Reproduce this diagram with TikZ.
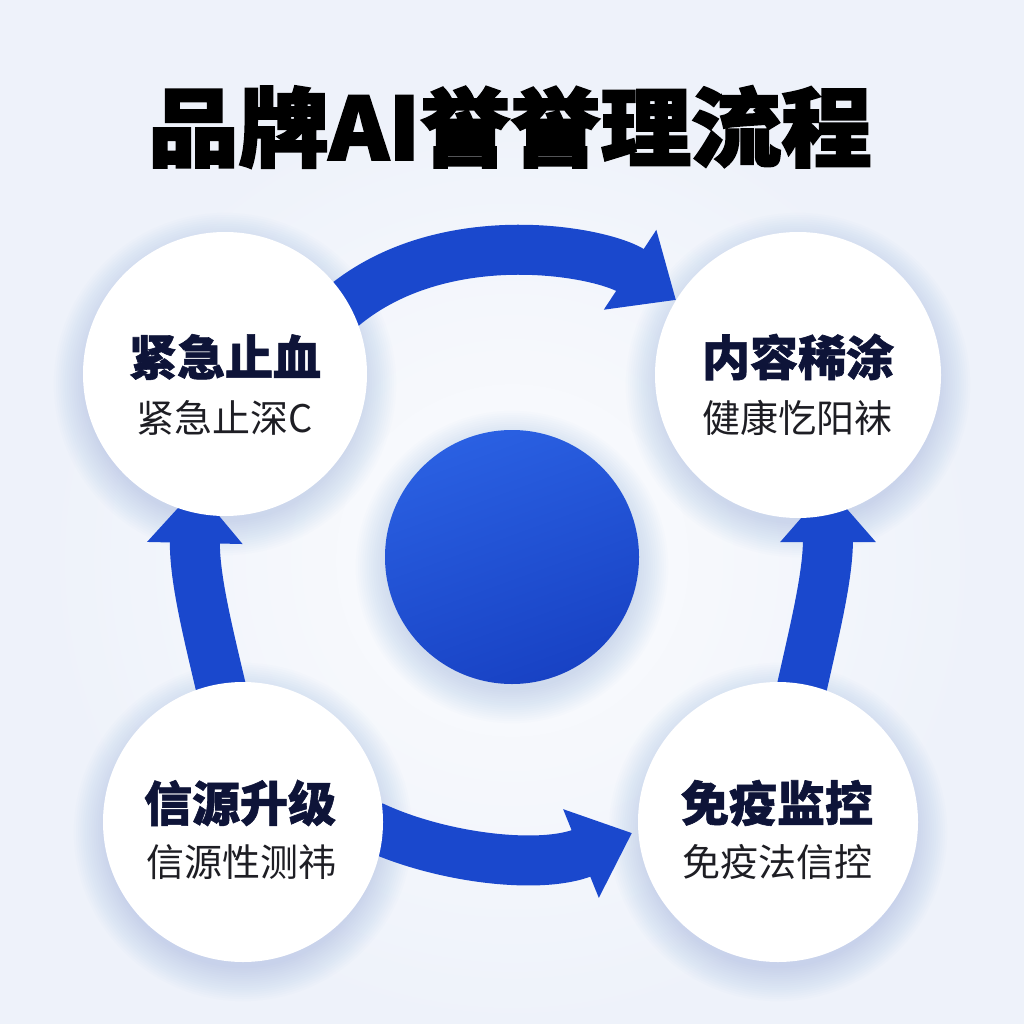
\documentclass[tikz,border=0pt]{standalone}
\usepackage{fontspec}
\newfontfamily\cjk{Noto Sans CJK SC}
\newfontfamily\cjkheavy{Noto Sans CJK SC}[BoldFeatures={FakeBold=2.5}]
\newfontfamily\cjkhead{Noto Sans CJK SC}[BoldFeatures={FakeBold=1.2}]
\usetikzlibrary{arrows.meta}
\definecolor{bg}{RGB}{238,242,250}
\definecolor{arrowblue}{RGB}{26,72,205}
\definecolor{hubtop}{RGB}{42,96,226}
\definecolor{hubbot}{RGB}{24,66,196}
\definecolor{navy}{RGB}{14,20,56}
\definecolor{subgray}{RGB}{30,30,36}
\definecolor{glowc}{RGB}{120,150,235}
\pgfdeclarelayer{back}
\pgfdeclarelayer{mid}
\pgfsetlayers{back,mid,main}
\begin{document}
\begin{tikzpicture}[x=1pt,y=-1pt,
  bubble/.style={circle, fill=white, inner sep=0pt, draw=none},
  hub/.style={circle, inner sep=0pt, minimum size=254pt, top color=hubtop, bottom color=hubbot, shading angle=20, draw=none},
  flow/.style={draw=arrowblue, line width=50pt, -{Triangle[length=55pt,width=92pt]}},
  headline/.style={font=\cjkhead\bfseries\fontsize{48}{50}\selectfont, text=navy, inner sep=0pt},
  subline/.style={font=\cjk\fontsize{38}{40}\selectfont, text=subgray, inner sep=0pt},
  maintitle/.style={font=\cjkheavy\bfseries\fontsize{86}{90}\selectfont, text=black, inner sep=0pt}]
\useasboundingbox (0,0) rectangle (1024,1024);
\begin{pgfonlayer}{back}
  \fill[bg] (0,0) rectangle (1024,1024);
  \shade[inner color=white!80!bg, outer color=bg] (512,560) circle[radius=470pt];
\end{pgfonlayer}
% nodes
\node[bubble, minimum size=284pt] (tl) at (225,374) {};
\node[bubble, minimum size=286pt] (tr) at (798,375) {};
\node[bubble, minimum size=280pt] (bl) at (243,822) {};
\node[bubble, minimum size=280pt] (br) at (778,822) {};
\node[hub] (hub) at (512,557) {};
% glows
\begin{pgfonlayer}{back}
  \foreach \n/\r in {tl/142,tr/143,bl/140,br/140,hub/127}{
    \foreach \k in {1,...,16}{
      \fill[glowc, opacity=0.018] ([yshift=-10pt]\n.center) circle[radius={\r pt + \k*2.2pt - 6pt}];
    }
  }
\end{pgfonlayer}
% arrows
\coordinate (a1s) at (330,318); \coordinate (a1e) at (676,300);
\coordinate (a2s) at (372,826); \coordinate (a2e) at (632,833);
\coordinate (a3s) at (225,705); \coordinate (a3e) at (196,488);
\coordinate (a4s) at (798,705); \coordinate (a4e) at (828,487);
\begin{pgfonlayer}{mid}
  \draw[flow] (a1s) .. controls (430,220) and (600,250) .. (a1e);
  \draw[flow] (a2s) .. controls (440,858) and (540,870) .. (a2e);
  \draw[flow] (a3s) .. controls (210,640) and (194,580) .. (a3e);
  \draw[flow] (a4s) .. controls (812,640) and (828,580) .. (a4e);
\end{pgfonlayer}
% texts
\node[maintitle] (title) at (510,127) {\scalebox{1.05}[1]{品牌AI誉誉理流程}};
\node[headline] (tlh) at (225,357) {紧急止血};
\node[subline] (tls) at (225,418) {紧急止深C};
\node[headline] (trh) at (798,357) {内容稀涂};
\node[subline] (trs) at (797,418) {健康忔阳袜};
\node[headline] (blh) at (240,803) {信源升级};
\node[subline] (bls) at (241,862) {信源性测祎};
\node[headline] (brh) at (777,803) {免疫监控};
\node[subline] (brs) at (777,862) {免疫法信控};
\end{tikzpicture}
\end{document}
